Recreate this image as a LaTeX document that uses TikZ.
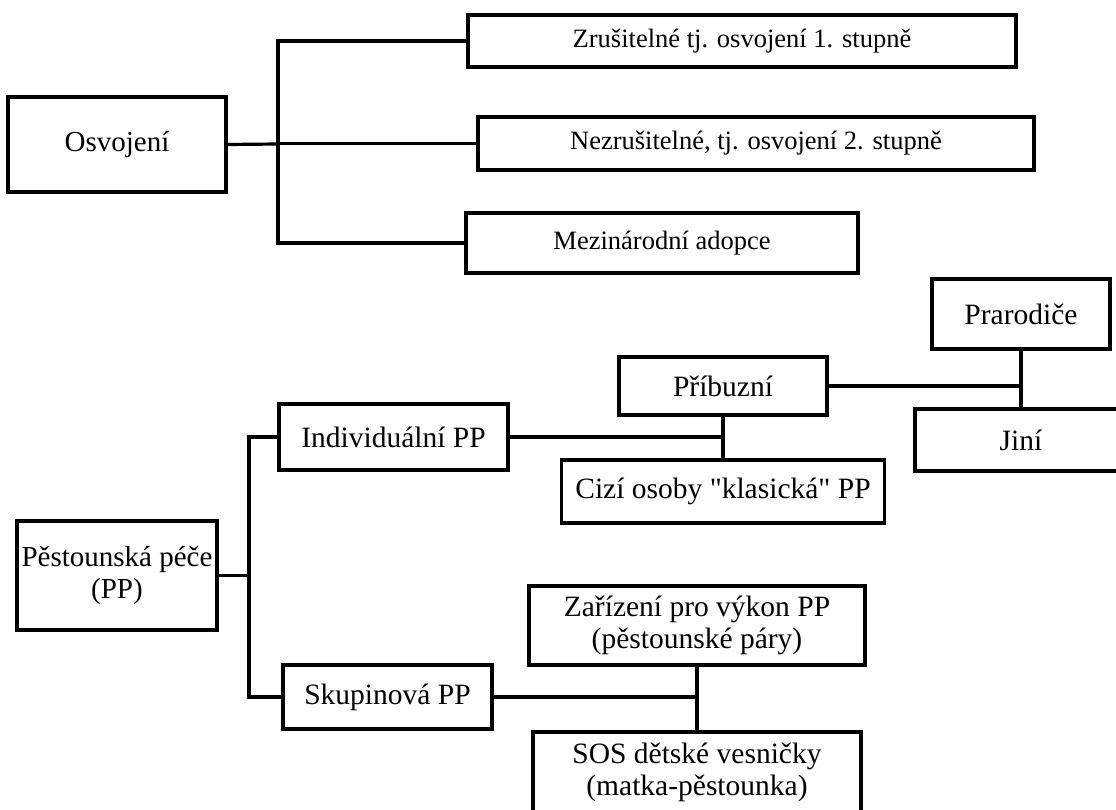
\documentclass[tikz,border=0pt]{standalone}
\usepackage{fontspec}
\newfontfamily\boxfont{Liberation Serif}
\usetikzlibrary{positioning}

\tikzset{
  box/.style={rectangle, draw, line width=3.2pt, inner sep=1pt, align=center,
    font=\boxfont\fontsize{29.5}{32}\selectfont},
  smallbox/.style={box, font=\boxfont\fontsize{26.5}{30}\selectfont},
  link/.style={line width=3.2pt}
}

\begin{document}
\begin{tikzpicture}[x=1pt, y=-1pt]
\useasboundingbox (0,0) rectangle (1116,810);

% Osvojeni
\node[box, minimum width=218pt, minimum height=95pt, font=\boxfont\fontsize{29}{32}\selectfont] (osv) at (117,144.5) {Osvojení};
\node[smallbox, minimum width=548pt, minimum height=52pt] (zrus) at (742,41) {Zrušitelné tj. osvojení 1. stupně};
\node[smallbox, minimum width=556pt, minimum height=53pt] (nezrus) at (756,143.5) {Nezrušitelné, tj. osvojení 2. stupně};
\node[smallbox, minimum width=392pt, minimum height=60pt] (mezi) at (662,243) {Mezinárodní adopce};

\coordinate (osvbus) at (278,144);
\draw[link] (osv.east) -- (osvbus);
\draw[link] (zrus.west) -| (osvbus) |- (mezi.west);
\draw[link] (nezrus.west -| osvbus) -- (nezrus.west);

% Pestounska pece
\node[box, minimum width=200pt, minimum height=109pt, font=\boxfont\fontsize{29}{32}\selectfont] (pp) at (117,575.5) {Pěstounská péče\\(PP)};
\node[box, minimum width=229pt, minimum height=66pt] (indiv) at (393.5,437) {Individuální PP};
\node[box, minimum width=209pt, minimum height=64pt] (skup) at (387.5,697) {Skupinová PP};

\coordinate (ppbus) at (249,575.5);
\draw[link] (pp.east) -- (ppbus);
\draw[link] (indiv.west) -| (ppbus) |- (skup.west);

% Individualni PP
\node[box, minimum width=208pt, minimum height=58pt] (pribuz) at (723,386) {Příbuzní};
\node[box, minimum width=323pt, minimum height=63pt] (cizi) at (723,491.5) {Cizí osoby "klasická" PP};
\draw[link] (indiv.east) -- (indiv.east -| pribuz.south);
\draw[link] (pribuz.south) -- (cizi.north);

% Pribuzni
\node[box, minimum width=178pt, minimum height=70pt] (prar) at (1021,314) {Prarodiče};
\node[box, minimum width=212pt, minimum height=62pt] (jini) at (1021,440) {Jiní};
\draw[link] (pribuz.east) -- (pribuz.east -| prar.south);
\draw[link] (prar.south) -- (jini.north);

% Skupinova PP
\node[box, minimum width=336pt, minimum height=79pt] (zariz) at (697,625.5) {Zařízení pro výkon PP\\(pěstounské páry)};
\node[box, minimum width=328pt, minimum height=80pt] (sos) at (697,772) {SOS dětské vesničky\\(matka-pěstounka)};
\draw[link] (skup.east) -- (skup.east -| zariz.south);
\draw[link] (zariz.south) -- (sos.north);

\end{tikzpicture}
\end{document}
